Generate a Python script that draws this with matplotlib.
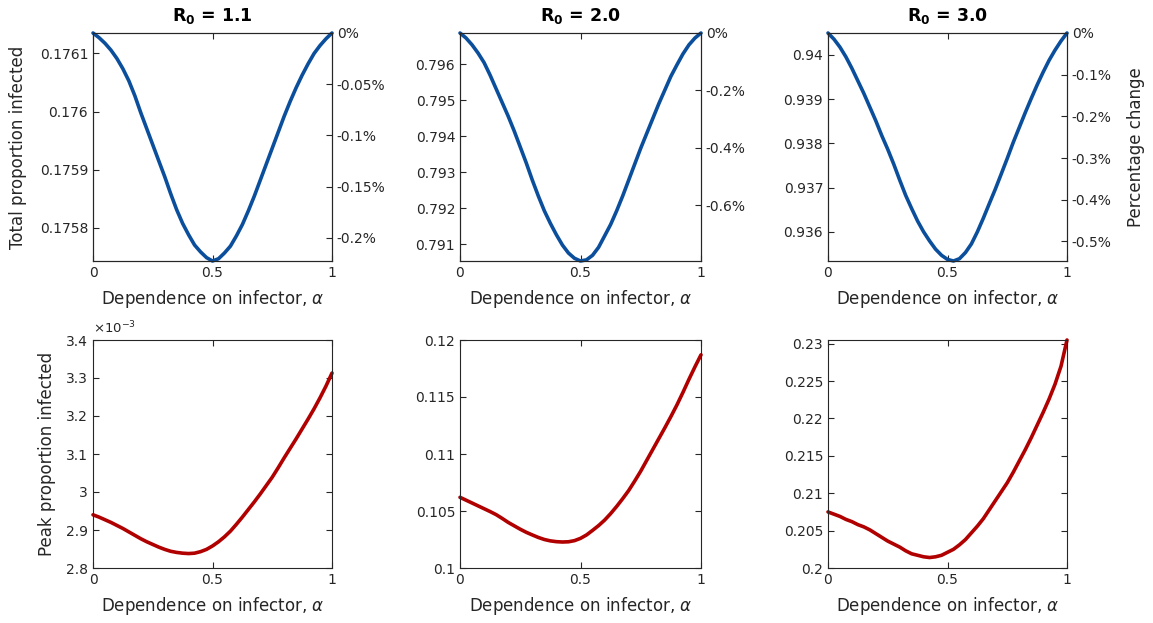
import numpy as np
import matplotlib
matplotlib.use("Agg")
import matplotlib.pyplot as plt
from matplotlib.ticker import FuncFormatter, FixedLocator

plt.rcParams['font.family'] = ['DejaVu Sans']
plt.rcParams['mathtext.fontset'] = 'dejavusans'

# ---------------- data ----------------
alpha = [0.0, 0.025, 0.05, 0.075, 0.1, 0.125, 0.15, 0.175, 0.2, 0.225,
         0.25, 0.275, 0.3, 0.325, 0.35, 0.375, 0.4, 0.425, 0.45, 0.475,
         0.5, 0.525, 0.55, 0.575, 0.6, 0.625, 0.65, 0.675, 0.7, 0.725,
         0.75, 0.775, 0.8, 0.825, 0.85, 0.875, 0.9, 0.925, 0.95, 0.975, 1.0]

r0_titles = ["1.1", "2.0", "3.0"]

# total proportion infected at alpha = 0 for each R0
total_base = [0.176135, 0.79687, 0.94049]

# percentage change of total proportion infected relative to alpha = 0
pct_r11 = [0.0, -0.0045, -0.0100, -0.0167, -0.0249, -0.0349, -0.0467, -0.0612, -0.0779, -0.0935,
           -0.1091, -0.1247, -0.1402, -0.1569, -0.1725, -0.1859, -0.1970, -0.2070, -0.2137, -0.2193,
           -0.2226, -0.2204, -0.2148, -0.2081, -0.1981, -0.1870, -0.1736, -0.1592, -0.1436, -0.1280,
           -0.1124, -0.0968, -0.0812, -0.0668, -0.0534, -0.0412, -0.0301, -0.0200, -0.0122, -0.0056, 0.0]
pct_r20 = [0.0, -0.0175, -0.0413, -0.0700, -0.1034, -0.1471, -0.1948, -0.2425, -0.2902, -0.3419,
           -0.3975, -0.4532, -0.5128, -0.5684, -0.6201, -0.6638, -0.7036, -0.7394, -0.7672, -0.7855,
           -0.7950, -0.7910, -0.7751, -0.7473, -0.7076, -0.6678, -0.6201, -0.5684, -0.5128, -0.4571,
           -0.4015, -0.3498, -0.2981, -0.2465, -0.1988, -0.1511, -0.1113, -0.0731, -0.0413, -0.0175, 0.0]
pct_r30 = [0.0, -0.0148, -0.0339, -0.0574, -0.0848, -0.1149, -0.1450, -0.1778, -0.2106, -0.2462,
           -0.2790, -0.3145, -0.3528, -0.3895, -0.4212, -0.4513, -0.4770, -0.4989, -0.5186, -0.5333,
           -0.5432, -0.5470, -0.5415, -0.5268, -0.5060, -0.4770, -0.4442, -0.4092, -0.3747, -0.3380,
           -0.3009, -0.2626, -0.2270, -0.1915, -0.1575, -0.1247, -0.0941, -0.0656, -0.0410, -0.0191, 0.0]

peak_r11 = [2.940e-3, 2.934e-3, 2.927e-3, 2.920e-3, 2.912e-3, 2.904e-3, 2.895e-3, 2.886e-3, 2.877e-3, 2.869e-3,
            2.862e-3, 2.855e-3, 2.849e-3, 2.844e-3, 2.841e-3, 2.839e-3, 2.838e-3, 2.839e-3, 2.843e-3, 2.849e-3,
            2.858e-3, 2.869e-3, 2.882e-3, 2.897e-3, 2.915e-3, 2.934e-3, 2.954e-3, 2.974e-3, 2.995e-3, 3.017e-3,
            3.039e-3, 3.064e-3, 3.090e-3, 3.115e-3, 3.140e-3, 3.166e-3, 3.192e-3, 3.219e-3, 3.248e-3, 3.279e-3,
            3.313e-3]
peak_r20 = [0.10620, 0.10595, 0.10570, 0.10545, 0.10520, 0.10495, 0.10468, 0.10435, 0.10400, 0.10370,
            0.10340, 0.10313, 0.10290, 0.10268, 0.10250, 0.10238, 0.10231, 0.10228, 0.10230, 0.10240,
            0.10260, 0.10290, 0.10330, 0.10372, 0.10420, 0.10477, 0.10540, 0.10608, 0.10680, 0.10763,
            0.10850, 0.10945, 0.11040, 0.11135, 0.11230, 0.11328, 0.11430, 0.11540, 0.11655, 0.11765,
            0.11870]
peak_r30 = [0.2075, 0.2072, 0.2069, 0.2065, 0.2062, 0.2058, 0.2055, 0.2051, 0.2046, 0.2041,
            0.2036, 0.2032, 0.2028, 0.2023, 0.2019, 0.2017, 0.2015, 0.2014, 0.2015, 0.2017,
            0.2021, 0.2025, 0.2031, 0.2038, 0.2047, 0.2056, 0.2066, 0.2078, 0.2090, 0.2102,
            0.2114, 0.2128, 0.2143, 0.2158, 0.2174, 0.2191, 0.2208, 0.2226, 0.2246, 0.2270,
            0.2305]

total_yticks = [[0.1758, 0.1759, 0.1760, 0.1761],
                [0.791, 0.792, 0.793, 0.794, 0.795, 0.796],
                [0.936, 0.937, 0.938, 0.939, 0.940]]
pct_ticks = [[0, -0.05, -0.1, -0.15, -0.2],
             [0, -0.2, -0.4, -0.6],
             [0, -0.1, -0.2, -0.3, -0.4, -0.5]]
peak_yticks = [[2.8e-3, 2.9e-3, 3.0e-3, 3.1e-3, 3.2e-3, 3.3e-3, 3.4e-3],
               [0.1, 0.105, 0.11, 0.115, 0.12],
               [0.2, 0.205, 0.21, 0.215, 0.22, 0.225, 0.23]]
peak_ylims = [(2.8e-3, 3.4e-3), (0.1, 0.12), (0.2, None)]
x_ticks = [0, 0.5, 1]

pcts = [pct_r11, pct_r20, pct_r30]
peaks = [peak_r11, peak_r20, peak_r30]

# ---------------- style ----------------
BLUE = '#0b4f9c'
RED = '#b00000'
DARK = '#262626'
TICKFS = 10
LABELFS = 12

W, H = 1153, 623
fig = plt.figure(figsize=(W / 100, H / 100), dpi=100)

lefts = [93, 460, 828]
rights = [332, 701, 1067]
top_row = (33, 261)
bot_row = (340, 568)


def rect(l, r, t, b):
    return [l / W, 1 - b / H, (r - l) / W, (b - t) / H]


def gfmt(v, pos=None):
    return f'{float(f"{v:.6g}"):g}'


def style(ax):
    for s in ax.spines.values():
        s.set_color(DARK)
        s.set_linewidth(0.8)
    ax.tick_params(direction='in', length=4, width=0.8, colors=DARK,
                   labelsize=TICKFS, labelcolor=DARK)


for i in range(3):
    # ---- top row: total proportion infected ----
    ax = fig.add_axes(rect(lefts[i], rights[i], *top_row))
    y0 = total_base[i]
    total = [y0 * (1 + p / 100) for p in pcts[i]]
    ax.plot(alpha, total, color=BLUE, lw=2.6, solid_capstyle='round', clip_on=False)
    ax.set_xlim(0, 1)
    ymin, ymax = min(total), max(total)
    ax.set_ylim(ymin, ymax)
    ax.set_xticks(x_ticks)
    ax.xaxis.set_major_formatter(FuncFormatter(gfmt))
    ax.set_yticks(total_yticks[i])
    ax.yaxis.set_major_formatter(FuncFormatter(gfmt))
    style(ax)
    ax.tick_params(axis='x', top=True)
    ax.tick_params(axis='y', right=False)
    ax.set_xlabel(r'Dependence on infector, $\alpha$', fontsize=LABELFS, color=DARK,
                  labelpad=6)
    ax.set_title(r'$\mathbf{R_0}$ = ' + r0_titles[i], fontsize=12.5,
                 fontweight='bold', color='black', pad=9)
    if i == 0:
        ax.set_ylabel('Total proportion infected', fontsize=LABELFS, color=DARK,
                      labelpad=9)

    ax2 = ax.twinx()
    ax2.set_ylim((ymin / y0 - 1) * 100, (ymax / y0 - 1) * 100)
    ax2.yaxis.set_major_locator(FixedLocator(pct_ticks[i]))
    ax2.yaxis.set_major_formatter(FuncFormatter(lambda v, p: f'{float(f"{v:.6g}") + 0.0:g}%'))
    style(ax2)
    ax2.tick_params(axis='y', left=False)
    if i == 2:
        ax2.set_ylabel('Percentage change', fontsize=LABELFS, color=DARK, labelpad=11)

    # ---- bottom row: peak proportion infected ----
    bx = fig.add_axes(rect(lefts[i], rights[i], *bot_row))
    bx.plot(alpha, peaks[i], color=RED, lw=2.6, solid_capstyle='round', clip_on=False)
    bx.set_xlim(0, 1)
    lo, hi = peak_ylims[i]
    if hi is None:
        hi = max(peaks[i])
    bx.set_ylim(lo, hi)
    bx.set_xticks(x_ticks)
    bx.xaxis.set_major_formatter(FuncFormatter(gfmt))
    bx.set_yticks(peak_yticks[i])
    if i == 0:
        bx.yaxis.set_major_formatter(FuncFormatter(lambda v, p: gfmt(v * 1e3)))
        bx.text(0.0, 1.015, r'$\times10^{\mathregular{-3}}$', transform=bx.transAxes,
                fontsize=9.5, color=DARK, ha='left', va='bottom')
        bx.set_ylabel('Peak proportion infected', fontsize=LABELFS, color=DARK,
                      labelpad=7)
    else:
        bx.yaxis.set_major_formatter(FuncFormatter(gfmt))
    style(bx)
    bx.tick_params(axis='x', top=True)
    bx.tick_params(axis='y', right=True)
    bx.set_xlabel(r'Dependence on infector, $\alpha$', fontsize=LABELFS, color=DARK,
                  labelpad=6)

fig.savefig('out.png', dpi=100, facecolor='white')
